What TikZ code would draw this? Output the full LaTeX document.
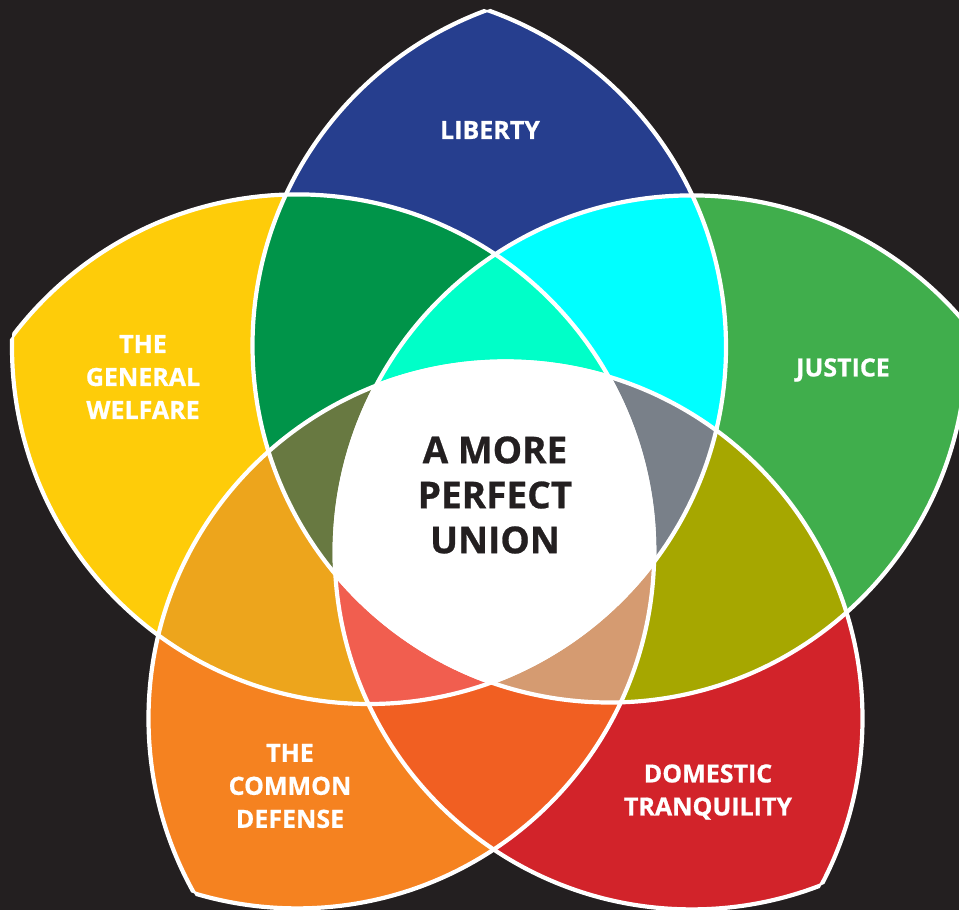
\documentclass[tikz,border=0pt]{standalone}
\usepackage{fontspec}
\setsansfont{Open Sans}[BoldFeatures={FakeBold=0.7}]
\definecolor{bgc}{HTML}{231F20}
\definecolor{cLib}{HTML}{263E8E}
\definecolor{cJus}{HTML}{40AE4C}
\definecolor{cDom}{HTML}{D2232A}
\definecolor{cDef}{HTML}{F58220}
\definecolor{cWel}{HTML}{FECC09}
\definecolor{cLJ}{HTML}{00FFFF}
\definecolor{cJD}{HTML}{A6A700}
\definecolor{cDD}{HTML}{F15F22}
\definecolor{cDW}{HTML}{EDA51C}
\definecolor{cWL}{HTML}{009449}
\definecolor{cWLJ}{HTML}{00FFC8}
\definecolor{cLJD}{HTML}{798089}
\definecolor{cJDD}{HTML}{D59B71}
\definecolor{cDDW}{HTML}{F15E4F}
\definecolor{cDWL}{HTML}{687941}
\begin{document}
\begin{tikzpicture}[x=1pt,y=-1pt,
  lbl/.style={text=white,font=\sffamily\bfseries\fontsize{25}{33}\selectfont,align=center,inner sep=0pt},
  ctr/.style={text=bgc,font=\sffamily\bfseries\fontsize{37}{45}\selectfont,align=center,inner sep=0pt},
  outline/.style={draw=white,line width=4.2pt}]
\def\Da{(609.5,345.5) circle[radius=357pt]}
\def\Db{(691.7,552.4) circle[radius=357pt]}
\def\Dc{(505.5,718.5) circle[radius=357pt]}
\def\Dd{(297.2,551.4) circle[radius=357pt]}
\def\De{(369,347) circle[radius=357pt]}
\useasboundingbox (0,0) rectangle (959,910);
\clip (0,0) rectangle (959,910);
\fill[bgc] (0,0) rectangle (959,910);
% single petals
\begin{scope}\clip \De; \fill[cLib] \Da; \end{scope}
\begin{scope}\clip \Da; \fill[cJus] \Db; \end{scope}
\begin{scope}\clip \Db; \fill[cDom] \Dc; \end{scope}
\begin{scope}\clip \Dc; \fill[cDef] \Dd; \end{scope}
\begin{scope}\clip \Dd; \fill[cWel] \De; \end{scope}
% pairs of neighbouring petals
\begin{scope}\clip \De; \clip \Da; \fill[cLJ] \Db; \end{scope}
\begin{scope}\clip \Da; \clip \Db; \fill[cJD] \Dc; \end{scope}
\begin{scope}\clip \Db; \clip \Dc; \fill[cDD] \Dd; \end{scope}
\begin{scope}\clip \Dc; \clip \Dd; \fill[cDW] \De; \end{scope}
\begin{scope}\clip \Dd; \clip \De; \fill[cWL] \Da; \end{scope}
% triples
\begin{scope}\clip \Dd; \clip \De; \clip \Da; \fill[cWLJ] \Db; \end{scope}
\begin{scope}\clip \De; \clip \Da; \clip \Db; \fill[cLJD] \Dc; \end{scope}
\begin{scope}\clip \Da; \clip \Db; \clip \Dc; \fill[cJDD] \Dd; \end{scope}
\begin{scope}\clip \Db; \clip \Dc; \clip \Dd; \fill[cDDW] \De; \end{scope}
\begin{scope}\clip \Dc; \clip \Dd; \clip \De; \fill[cDWL] \Da; \end{scope}
% centre
\begin{scope}\clip \Da; \clip \Db; \clip \Dc; \clip \Dd; \fill[white] \De; \end{scope}
% outlines
\begin{scope}\clip \De; \path[outline] \Da; \end{scope}
\begin{scope}\clip \Db; \path[outline] \Da; \end{scope}
\begin{scope}\clip \Da; \path[outline] \Db; \end{scope}
\begin{scope}\clip \Dc; \path[outline] \Db; \end{scope}
\begin{scope}\clip \Db; \path[outline] \Dc; \end{scope}
\begin{scope}\clip \Dd; \path[outline] \Dc; \end{scope}
\begin{scope}\clip \Dc; \path[outline] \Dd; \end{scope}
\begin{scope}\clip \De; \path[outline] \Dd; \end{scope}
\begin{scope}\clip \Dd; \path[outline] \De; \end{scope}
\begin{scope}\clip \Da; \path[outline] \De; \end{scope}
% labels
\node[lbl] (liberty) at (490,130) {LIBERTY};
\node[lbl] (justice) at (843,370) {JUSTICE};
\node[lbl] (welfare) at (143,377) {THE\\GENERAL\\WELFARE};
\node[lbl] (defense) at (290,786) {THE\\COMMON\\DEFENSE};
\node[lbl] (domestic) at (708,792) {DOMESTIC\\TRANQUILITY};
\node[ctr] (union) at (495,495) {A MORE\\PERFECT\\UNION};
\end{tikzpicture}
\end{document}
